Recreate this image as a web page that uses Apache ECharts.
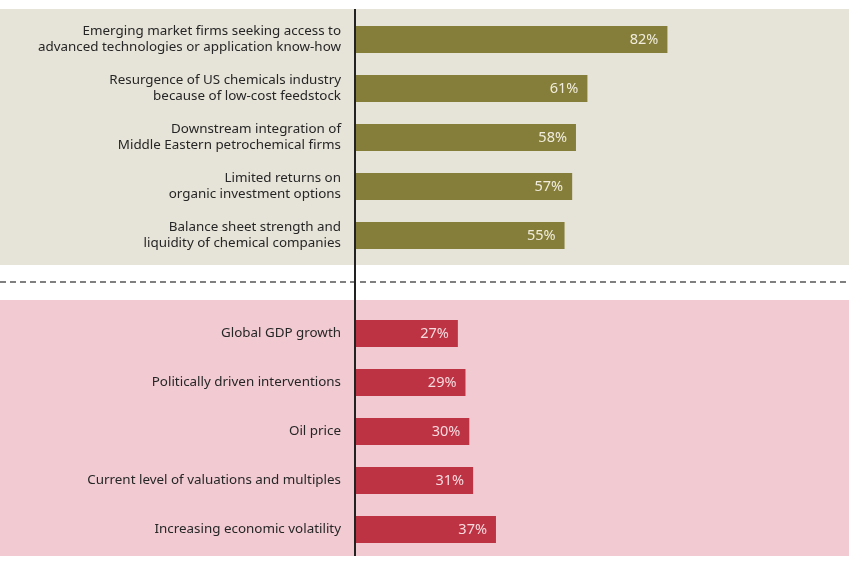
<!DOCTYPE html>
<html>
<head>
<meta charset="utf-8">
<script src="https://cdn.jsdelivr.net/npm/echarts@6/dist/echarts.min.js"></script>
<style>html,body{margin:0;padding:0;background:#fff;}#c{width:850px;height:566px;}</style>
</head>
<body>
<div id="c"></div>
<script>
var topCategories = [
  'Emerging market firms seeking access to\nadvanced technologies or application know-how',
  'Resurgence of US chemicals industry\nbecause of low-cost feedstock',
  'Downstream integration of\nMiddle Eastern petrochemical firms',
  'Limited returns on\norganic investment options',
  'Balance sheet strength and\nliquidity of chemical companies'
];
var topValues = [82, 61, 58, 57, 55];
var bottomCategories = [
  'Global GDP growth',
  'Politically driven interventions',
  'Oil price',
  'Current level of valuations and multiples',
  'Increasing economic volatility'
];
var bottomValues = [27, 29, 30, 31, 37];

var categories = topCategories.concat(['']).concat(bottomCategories);
var topData = topValues.concat(new Array(6).fill('-'));
var bottomData = new Array(6).fill('-').concat(bottomValues);

var chart = echarts.init(document.getElementById('c'));
var font = 'Noto Sans';
chart.setOption({
  animation: false,
  backgroundColor: '#ffffff',
  graphic: [
    { type: 'rect', z: -10, silent: true, shape: { x: 0, y: 9, width: 849, height: 256 }, style: { fill: '#e6e3d8' } },
    { type: 'rect', z: -10, silent: true, shape: { x: 0, y: 300, width: 849, height: 256 }, style: { fill: '#f1cad2' } },
    { type: 'line', z: -5, silent: true, shape: { x1: 0, y1: 282, x2: 850, y2: 282 }, style: { stroke: '#555555', lineWidth: 1.5, lineDash: [6, 4] } },
    { type: 'line', z: 10, silent: true, shape: { x1: 355, y1: 9, x2: 355, y2: 556 }, style: { stroke: '#222222', lineWidth: 2 } }
  ],
  grid: { left: 355, width: 381, top: 15, height: 539, containLabel: false },
  xAxis: { type: 'value', min: 0, max: 100, show: false },
  yAxis: {
    type: 'category',
    data: categories,
    inverse: true,
    axisLine: { show: false },
    axisTick: { show: false },
    axisLabel: { margin: 14, color: '#262626', fontFamily: font, fontSize: 13.4, lineHeight: 16, align: 'right' }
  },
  series: [
    {
      type: 'bar', data: topData, barWidth: 27, barGap: '-100%',
      itemStyle: { color: '#847e3a' },
      label: { show: true, position: 'insideRight', distance: 9, formatter: '{c}%', color: '#f1ecdc', fontFamily: font, fontSize: 14.5 }
    },
    {
      type: 'bar', data: bottomData, barWidth: 27, barGap: '-100%',
      itemStyle: { color: '#bd3343' },
      label: { show: true, position: 'insideRight', distance: 9, formatter: '{c}%', color: '#f6dade', fontFamily: font, fontSize: 14.5 }
    }
  ]
});
</script>
</body>
</html>
